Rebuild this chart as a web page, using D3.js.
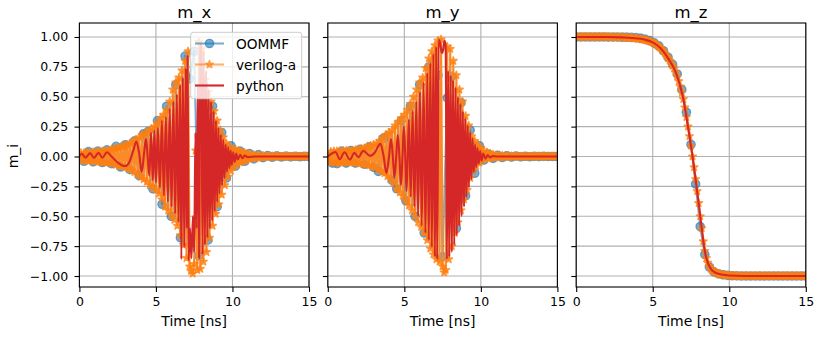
<!DOCTYPE html>
<html><head><meta charset="utf-8">
<script src="https://cdn.jsdelivr.net/npm/d3@7"></script>
<style>body{margin:0;background:#fff}svg{display:block;font-family:"DejaVu Sans",sans-serif}</style>
</head><body><svg id="c" width="830" height="337"></svg>
<script>
// ---------- data ----------
const titles = ["m_x", "m_y", "m_z"];
const seriesNames = ["OOMMF", "verilog-a", "python"];
const xTicks = [0, 5, 10, 15];
const yTicks = [-1, -0.75, -0.5, -0.25, 0, 0.25, 0.5, 0.75, 1];
const oommfStep = 0.3;    // ns between OOMMF samples
const verilogStep = 0.1;  // ns between verilog-a samples

const oommfX = [0.0,-0.04,0.04,-0.045,0.045,-0.05,0.055,-0.06,0.085,-0.088,0.098,-0.11,0.13,-0.16,0.19,0.21,-0.27,0.3,-0.4,0.42,-0.5,0.6,-0.68,0.84,0.65,0.88,-0.83,0.6,-0.7,0.42,-0.42,0.2,-0.18,0.09,-0.08,0.045,-0.04,0.025,-0.02,0.015,-0.01,0.008,-0.006,0.005,-0.004,0.003,-0.003,0.002,-0.002,0.001,0.0];
const oommfY = [0.0,-0.055,-0.06,0.045,-0.055,0.05,-0.055,0.06,-0.065,0.08,-0.09,-0.125,0.15,0.17,-0.2,-0.27,0.3,-0.37,0.42,-0.5,0.6,-0.64,0.75,0.78,0.68,-0.84,0.49,0.67,-0.6,0.45,-0.33,0.22,-0.14,0.09,-0.03,0.02,-0.015,0.01,-0.008,0.006,-0.005,0.004,-0.003,0.002,-0.002,0.001,-0.001,0.001,0.0,0.0,0.0];
const oommfZ = [1.0,1.0,1.0,1.0,1.0,1.0,1.0,0.999,0.999,0.999,0.998,0.998,0.997,0.995,0.99,0.982,0.97,0.95,0.925,0.885,0.83,0.77,0.69,0.56,0.37,0.1,-0.23,-0.586,-0.82,-0.925,-0.965,-0.982,-0.99,-0.995,-0.998,-0.999,-1,-1,-1,-1,-1,-1,-1,-1,-1,-1,-1,-1,-1,-1,-1];

const verilogX = [0,0.03,-0.035,0.03,-0.03,0.035,-0.038,0.032,-0.035,0.036,-0.04,
0.04,-0.045,0.042,-0.048,0.045,-0.05,0.048,-0.05,0.05,-0.055,
0.06,-0.06,0.068,-0.07,0.075,-0.078,0.08,-0.085,0.088,-0.09,
0.1,-0.1,0.11,-0.115,0.125,-0.13,0.14,-0.15,0.16,-0.17,
0.18,-0.19,0.195,-0.21,0.21,-0.24,0.23,-0.26,0.25,-0.28,
0.28,-0.31,0.32,-0.36,0.35,-0.42,0.39,-0.45,0.46,-0.49,
0.56,-0.53,0.62,-0.58,0.66,-0.66,0.72,-0.74,0.8,-0.85,
0.88,-0.92,-0.96,-0.98,-0.9,0.05,-0.95,0.96,-0.94,0.9,
-0.88,0.64,-0.8,0.54,-0.68,0.46,-0.58,0.38,-0.48,0.3,
-0.4,0.22,-0.32,0.16,-0.24,0.11,-0.17,0.08,-0.12,0.06,
-0.085,0.06,-0.065,0.05,-0.05,0.04,-0.04,0.03,-0.032,0.025,
-0.022,0.018,-0.016,0.014,-0.013,0.011,-0.01,0.009,-0.008,0.007,
-0.006,0.006,-0.005,0.005,-0.004,0.004,-0.003,0.003,-0.003,0.002,
-0.002,0.002,-0.002,0.002,-0.001,0.001,-0.001,0.001,-0.001,0.001,
-0.001,0.001,-0.001,0.001,-0.001,0.001,-0.001,0.001,0,0];
const verilogY = [0.0,-0.045,0.04,-0.05,0.045,-0.055,0.045,-0.055,0.045,-0.05,0.048,
-0.05,0.05,-0.05,0.05,-0.05,0.052,-0.052,0.055,-0.055,0.06,
-0.058,0.065,-0.062,0.07,-0.068,0.085,-0.075,0.09,-0.085,0.1,
-0.095,0.11,-0.11,0.13,-0.125,0.16,-0.14,0.18,-0.165,0.2,
-0.19,0.22,-0.22,0.26,-0.27,0.29,-0.3,0.32,-0.33,0.35,
-0.37,0.39,-0.41,0.44,-0.45,0.5,-0.5,0.56,-0.55,0.62,
-0.59,0.66,-0.64,0.74,-0.7,0.82,-0.77,0.88,-0.82,0.93,
-0.86,0.97,-0.88,0.98,-0.92,-0.97,-0.95,0.92,-0.86,0.9,
-0.75,0.8,-0.64,0.68,-0.55,0.56,-0.45,0.46,-0.36,0.34,
-0.28,0.26,-0.18,0.17,-0.12,0.13,-0.08,0.1,-0.05,0.07,
-0.03,0.05,-0.02,0.035,-0.015,0.025,-0.012,0.018,-0.01,0.012,
-0.008,0.01,-0.006,0.008,-0.005,0.006,-0.004,0.005,-0.003,0.004,
-0.003,0.003,-0.002,0.003,-0.002,0.002,-0.002,0.002,-0.001,0.002,
-0.001,0.001,-0.001,0.001,-0.001,0.001,-0.001,0.001,-0.001,0.001,
-0.001,0.001,-0.001,0.001,-0.001,0.001,-0.001,0.001,0,0];
const verilogZ = [1,1,1,1,1,1,1,1,1,1,1,1,1,1,1,1,1,1,1,1,1,
0.999,0.999,0.999,0.999,0.998,0.998,0.998,0.997,0.997,0.996,
0.996,0.995,0.995,0.994,0.993,0.992,0.991,0.99,0.989,0.987,
0.985,0.983,0.98,0.978,0.975,0.972,0.968,0.964,0.96,0.955,
0.948,0.94,0.93,0.92,0.908,0.895,0.88,0.862,0.843,0.823,
0.803,0.783,0.76,0.735,0.705,0.67,0.63,0.585,0.535,0.48,
0.41,0.33,0.25,0.17,0.09,0.0,-0.09,-0.19,-0.29,-0.39,
-0.5,-0.6,-0.71,-0.79,-0.85,-0.89,-0.92,-0.94,-0.955,-0.965,
-0.972,-0.977,-0.981,-0.985,-0.988,-0.99,-0.992,-0.994,-0.995,-0.996,
-0.997,-0.998,-0.998,-0.999,-0.999,-1,-1,-1,-1,-1,
-1,-1,-1,-1,-1,-1,-1,-1,-1,-1,-1,-1,-1,-1,-1,-1,-1,-1,-1,-1,
-1,-1,-1,-1,-1,-1,-1,-1,-1,-1,-1,-1,-1,-1,-1,-1,-1,-1,-1,-1];

// python: [time ns, value]
const pythonX = [[0,0],[0.15,0.025],[0.4,-0.01],[0.7,0.028],[0.95,-0.012],[1.25,0.03],[1.5,-0.01],[1.8,0.035],[2.1,0.0],[2.5,-0.05],[2.8,-0.075],[3.0,-0.08],[3.25,-0.05],[3.5,0.04],[3.72,0.125],[3.9,0.03],[4.07,-0.13],[4.22,0.02],[4.35,0.15],[4.47,-0.02],[4.57,-0.16],[4.68,0.2],[4.8,-0.2],[4.9,0.22],[5.0,-0.22],[5.13,0.24],[5.26,-0.26],[5.39,0.3],[5.52,-0.33],[5.65,0.33],[5.78,-0.38],[5.9,0.4],[6.02,-0.42],[6.14,0.46],[6.26,-0.48],[6.37,0.52],[6.48,-0.55],[6.58,0.6],[6.66,-0.86],[6.76,0.66],[6.86,-0.76],[6.95,0.74],[7.02,-0.6],[7.07,0.85],[7.13,-0.87],[7.22,-0.6],[7.32,-0.85],[7.42,-0.5],[7.5,-0.8],[7.58,0.2],[7.66,-0.6],[7.74,0.6],[7.82,-0.85],[7.9,0.9],[7.97,0.95],[8.04,-0.82],[8.12,0.88],[8.2,-0.74],[8.28,0.72],[8.36,-0.68],[8.44,0.56],[8.52,-0.6],[8.6,0.46],[8.68,-0.54],[8.76,0.38],[8.84,-0.46],[8.92,0.3],[9.0,-0.38],[9.08,0.24],[9.16,-0.31],[9.24,0.18],[9.32,-0.24],[9.4,0.14],[9.48,-0.18],[9.56,0.1],[9.64,-0.13],[9.72,0.08],[9.8,-0.1],[9.88,0.05],[9.96,-0.07],[10.05,0.035],[10.15,-0.045],[10.25,0.025],[10.35,-0.025],[10.5,0.015],[10.65,-0.015],[10.8,0.008],[11.0,-0.005],[11.5,0.0],[15,0.0]];
const pythonY = [[0,0],[0.2,0.02],[0.5,0.037],[0.78,-0.022],[1.09,0.035],[1.44,-0.025],[1.74,0.03],[2.0,-0.005],[2.32,0.047],[2.76,0.005],[3.05,0.03],[3.44,0.106],[3.65,0.0],[3.83,-0.14],[4.0,0.0],[4.13,0.145],[4.25,0.0],[4.35,-0.18],[4.47,0.0],[4.57,0.18],[4.68,0.0],[4.78,-0.24],[4.88,0.0],[4.97,0.25],[5.06,0.0],[5.14,-0.29],[5.22,0.0],[5.3,0.31],[5.42,-0.34],[5.54,0.38],[5.66,-0.42],[5.78,0.46],[5.9,-0.5],[6.02,0.54],[6.14,-0.58],[6.26,0.62],[6.38,-0.64],[6.5,0.7],[6.6,-0.7],[6.7,0.78],[6.8,-0.76],[6.9,0.86],[7.0,-0.84],[7.08,0.92],[7.15,-0.86],[7.24,0.977],[7.35,0.94],[7.42,0.88],[7.48,0.866],[7.55,0.91],[7.62,0.97],[7.7,0.93],[7.78,-0.86],[7.86,0.72],[7.94,-0.84],[8.02,0.68],[8.1,-0.8],[8.18,0.64],[8.26,-0.74],[8.34,0.58],[8.42,-0.66],[8.5,0.5],[8.58,-0.58],[8.66,0.44],[8.74,-0.5],[8.82,0.38],[8.9,-0.42],[8.98,0.32],[9.06,-0.34],[9.14,0.26],[9.22,-0.26],[9.3,0.2],[9.38,-0.19],[9.46,0.15],[9.54,-0.13],[9.62,0.1],[9.7,-0.09],[9.78,0.07],[9.86,-0.06],[9.95,0.045],[10.05,-0.035],[10.15,0.025],[10.3,-0.018],[10.45,0.012],[10.6,-0.008],[10.8,0.004],[11.0,0.0],[15,0.0]];
const pythonZ = [[0,1],[2,1],[3,0.997],[4,0.988],[4.5,0.977],[5,0.955],[5.5,0.908],[6,0.823],[6.5,0.705],[6.8,0.585],[7.0,0.48],[7.2,0.33],[7.4,0.17],[7.6,0.0],[7.8,-0.19],[8.0,-0.39],[8.2,-0.6],[8.4,-0.79],[8.6,-0.89],[8.8,-0.94],[9.0,-0.965],[9.5,-0.988],[10,-0.996],[11,-1],[15,-1]];

// ---------- drawing ----------
const panels = [
  {title: titles[0], oommf: oommfX, verilog: verilogX, python: pythonX},
  {title: titles[1], oommf: oommfY, verilog: verilogY, python: pythonY},
  {title: titles[2], oommf: oommfZ, verilog: verilogZ, python: pythonZ}
];
const C = {blue: "#1f77b4", orange: "#ff7f0e", red: "#d62728", orangeBand: "#fb8a28"};
const svg = d3.select("#c");
const W = 229.6, TOP = 23, BOT = 287;
const lefts = [79.4, 327.8, 576.2];
const y = d3.scaleLinear().domain([-1.092, 1.117]).range([BOT, TOP]);
const starPath = d3.symbol().type(d3.symbolStar).size(22)();
const aO = 0.6, aV = 0.7;

panels.forEach((p, i) => {
  const x = d3.scaleLinear().domain([0, 15]).range([lefts[i], lefts[i] + W]);
  const g = svg.append("g");
  // grid
  g.append("g").selectAll("line").data(xTicks).join("line")
    .attr("x1", d => x(d)).attr("x2", d => x(d)).attr("y1", TOP).attr("y2", BOT)
    .attr("stroke", "#b0b0b0").attr("stroke-width", 1.1);
  g.append("g").selectAll("line").data(yTicks).join("line")
    .attr("y1", d => y(d)).attr("y2", d => y(d)).attr("x1", x(0)).attr("x2", x(15))
    .attr("stroke", "#b0b0b0").attr("stroke-width", 1.1);
  // clip
  const cid = "clip" + i;
  svg.append("clipPath").attr("id", cid).append("rect")
    .attr("x", x(0)).attr("y", TOP).attr("width", W).attr("height", BOT - TOP);
  const d = g.append("g").attr("clip-path", `url(#${cid})`);
  const line = d3.line().x(q => x(q[0])).y(q => y(q[1]));
  const oPts = p.oommf.map((v, k) => [k * oommfStep, v]);
  const vPts = p.verilog.map((v, k) => [k * verilogStep, v]);
  // OOMMF
  d.append("path").attr("d", line(oPts)).attr("fill", "none")
    .attr("stroke", C.blue).attr("stroke-opacity", aO).attr("stroke-width", 2.1).attr("stroke-linejoin", "round");
  d.append("g").selectAll("circle").data(oPts).join("circle")
    .attr("cx", q => x(q[0])).attr("cy", q => y(q[1])).attr("r", 4.2)
    .attr("fill", C.blue).attr("fill-opacity", aO)
    .attr("stroke", C.blue).attr("stroke-opacity", aO).attr("stroke-width", 1.3);
  // verilog-a
  d.append("path").attr("d", line(vPts)).attr("fill", "none")
    .attr("stroke", C.orangeBand).attr("stroke-width", 2.1).attr("stroke-linejoin", "round");
  d.append("g").selectAll("path").data(vPts).join("path")
    .attr("d", starPath).attr("transform", q => `translate(${x(q[0])},${y(q[1])})`)
    .attr("fill", C.orange).attr("fill-opacity", aV)
    .attr("stroke", C.orange).attr("stroke-opacity", aV).attr("stroke-width", 1.3).attr("stroke-linejoin", "bevel");
  // python
  d.append("path").attr("d", line.curve(d3.curveMonotoneX)(p.python)).attr("fill", "none")
    .attr("stroke", C.red).attr("stroke-width", 2.1).attr("stroke-linejoin", "round");
  // axes
  const ax = g.append("g").attr("transform", `translate(0,${BOT})`)
    .call(d3.axisBottom(x).tickValues(xTicks).tickSize(4.9).tickPadding(5.4).tickSizeOuter(0).tickFormat(d3.format("d")));
  const ay = g.append("g").attr("transform", `translate(${x(0)},0)`)
    .call(d3.axisLeft(y).tickValues(yTicks).tickSize(4.9).tickPadding(6.4).tickSizeOuter(0)
      .tickFormat(i === 0 ? d3.format(".2f") : () => ""));
  [ax, ay].forEach(a => {
    a.select(".domain").remove();
    a.attr("font-family", null).attr("font-size", null);
    a.selectAll("line").attr("stroke", "#000").attr("stroke-width", 1.1);
    a.selectAll("text").attr("fill", "#000").style("font-size", "12.5px").style("font-family", "DejaVu Sans");
  });
  // frame
  g.append("rect").attr("x", x(0)).attr("y", TOP).attr("width", W).attr("height", BOT - TOP)
    .attr("fill", "none").attr("stroke", "#000").attr("stroke-width", 1.1);
  // title + x label
  g.append("text").attr("x", x(7.5)).attr("y", 17.5).attr("text-anchor", "middle")
    .style("font-size", "16.5px").text(p.title);
  g.append("text").attr("x", x(7.5)).attr("y", 325.5).attr("text-anchor", "middle")
    .style("font-size", "14px").text("Time [ns]");

  if (i === 0) {
    svg.append("text").attr("transform", "translate(17.5,156) rotate(-90)")
      .attr("text-anchor", "middle").style("font-size", "14px").text("m_i");
    // legend
    const L = svg.append("g");
    L.append("rect").attr("x", 190.7).attr("y", 32.3).attr("width", 111).attr("height", 66.4)
      .attr("rx", 2.5).attr("fill", "#fff").attr("fill-opacity", 0.8)
      .attr("stroke", "#cccccc").attr("stroke-width", 1);
    const rows = [43.5, 64.5, 85.5];
    const cols = [C.blue, C.orange, C.red];
    const alph = [aO, 0.6, 1];
    seriesNames.forEach((n, k) => {
      L.append("line").attr("x1", 195).attr("x2", 224).attr("y1", rows[k]).attr("y2", rows[k])
        .attr("stroke", cols[k]).attr("stroke-opacity", alph[k]).attr("stroke-width", 2.1);
      if (k === 0) L.append("circle").attr("cx", 209.5).attr("cy", rows[k]).attr("r", 4.2)
        .attr("fill", cols[k]).attr("fill-opacity", alph[k])
        .attr("stroke", cols[k]).attr("stroke-opacity", alph[k]).attr("stroke-width", 1.3);
      if (k === 1) L.append("path").attr("d", starPath).attr("transform", `translate(209.5,${rows[k]})`)
        .attr("fill", cols[k]).attr("fill-opacity", alph[k])
        .attr("stroke", cols[k]).attr("stroke-opacity", alph[k]).attr("stroke-width", 1.3).attr("stroke-linejoin", "bevel");
      L.append("text").attr("x", 236).attr("y", rows[k] + 5).style("font-size", "13.7px").text(n);
    });
  }
});
</script>
</body></html>
